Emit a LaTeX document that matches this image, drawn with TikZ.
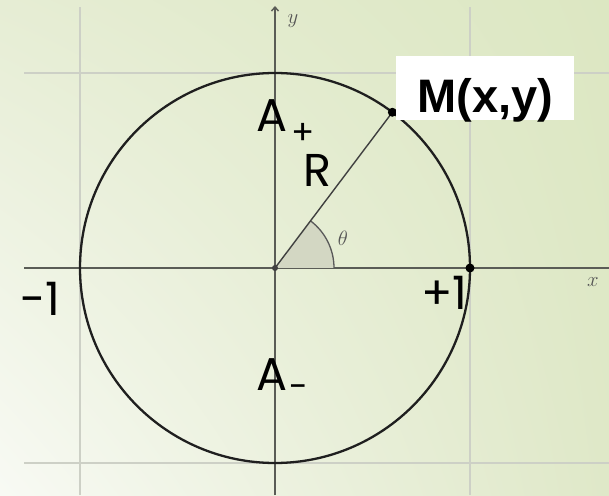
\documentclass[tikz,border=0pt]{standalone}
\usepackage{fontspec}
\newfontfamily\geo{Poppins}
\newfontfamily\arialf{Liberation Sans}
\usetikzlibrary{arrows.meta,shadings,calc}
\definecolor{bgTL}{HTML}{E6EDD4}
\definecolor{bgTR}{HTML}{DCE7C2}
\definecolor{bgBL}{HTML}{F8FAF4}
\definecolor{bgBR}{HTML}{DFE8C8}
\definecolor{gridc}{HTML}{CDD0C6}
\definecolor{axisc}{HTML}{5A5C56}
\definecolor{secfill}{HTML}{D3D7C3}
\definecolor{labgray}{HTML}{555555}
\tikzset{
  gridline/.style={draw=gridc, line width=1.4pt},
  axisline/.style={draw=axisc, line width=1.4pt},
  circline/.style={draw=black!88, line width=2.3pt},
  radline/.style={draw=black!75, line width=1.4pt},
  dotnode/.style={circle, fill=black, inner sep=0pt, minimum size=9pt},
  geolab/.style={font=\geo\fontsize{46}{46}\selectfont, inner sep=0pt, text=black},
  geosub/.style={font=\geo\fontsize{34}{34}\selectfont, inner sep=0pt, text=black},
  axlab/.style={font=\fontsize{22}{22}\selectfont\itshape, text=labgray, inner sep=0pt},
}
\begin{document}
\begin{tikzpicture}[x=1pt,y=1pt]
\useasboundingbox (0,0) rectangle (609,495);
\shade[lower left=bgBL, upper left=bgTL, upper right=bgTR, lower right=bgBR] (0,0) rectangle (609,495);
% grid
\draw[gridline] (24,422) -- (609,422);
\draw[gridline] (24,32) -- (609,32);
\draw[gridline] (80,0) -- (80,488);
\draw[gridline] (470,0) -- (470,488);
% axes
\coordinate (O) at (275,227);
\coordinate (xl) at (24,227);
\coordinate (xr) at (609,227);
\coordinate (yb) at (275,0);
\coordinate (yt) at (275,489);
\draw[axisline] (xl) -- (xr);
\draw[axisline, -{Straight Barb[length=4pt,width=7pt]}] (yb) -- (yt);
% angle sector
\fill[secfill] (O) -- ++(0:59) arc (0:53:59) -- cycle;
\draw[draw=black!65, line width=1.3pt] ($(O)+(0:59)$) arc (0:53:59);
% circle
\draw[circline] (O) circle (195);
\coordinate (M) at ($(O)+(53:195)$);
\coordinate (P) at ($(O)+(0:195)$);
\draw[radline] (O) -- (M);
\node[circle, fill=black!75, inner sep=0pt, minimum size=6pt] (Od) at (O) {};
\node[dotnode] (Md) at (M) {};
\node[dotnode] (Pd) at (P) {};
% axis labels
\node[axlab] (ylab) at (293,474) {$y$};
\node[axlab] (xlab) at (593,213) {$x$};
\node[axlab] (th) at (343,257) {$\theta$};
% hidden paren
\node[font=\fontsize{24}{24}\selectfont, text=labgray!80, inner sep=0pt] (par) at (399,409) {(};
% M box
\node[fill=white, minimum width=178pt, minimum height=64pt, inner sep=0pt] (box) at (485,407) {};
\node[font=\arialf\bfseries\fontsize{47}{47}\selectfont, inner sep=0pt, anchor=base] (Mlab) at (485.5,382) {M(x,y)};
% geometric labels
\node[geolab, anchor=base west] (Ap) at (256,363) {A};
\node[geosub] (App) at (303,361) {+};
\node[geolab, anchor=base west] (R) at (303,308) {R};
\node[geolab, anchor=base west] (Am) at (256,105) {A};
\node[geosub] (Amm) at (299,103) {-};
\node[geolab, anchor=base west] (m1) at (20,179) {-1};
\node[geolab, anchor=base west] (p1) at (421,185) {+1};
\end{tikzpicture}
\end{document}
